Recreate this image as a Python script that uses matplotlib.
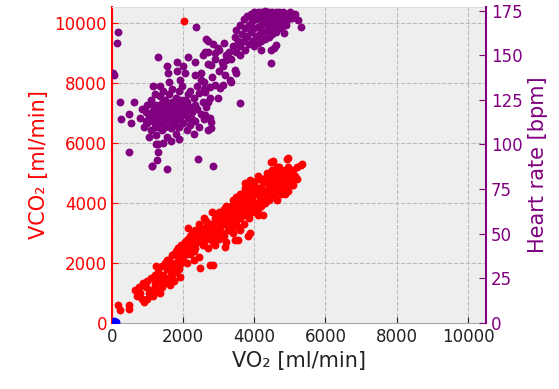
import matplotlib
matplotlib.use('Agg')
import matplotlib.pyplot as plt

# VCO2 against VO2, one point per breath [ml/min]
vo2 = [180, 240, 480, 470, 650, 700, 800, 880, 900, 950, 1000, 1050, 1100, 1150,
       1164, 1200, 1250, 1300, 1300, 1350, 1400, 1400, 1450, 1500, 1500, 1550,
       1600, 1600, 1630, 1650, 1700, 1700, 1750, 1800, 1800, 1850, 1900, 1900,
       1910, 1950, 2000, 2000, 2050, 2100, 2100, 2143, 2150, 2200, 2200, 2250,
       2300, 2300, 2350, 2400, 2400, 2450, 2470, 2500, 2500, 2550, 2600, 2650,
       2657, 2700, 2700, 2750, 2750, 2800, 2842, 2850, 2900, 2900, 2950, 3000,
       3000, 3050, 3100, 3100, 3150, 3170, 3200, 3200, 3250, 3300, 3300, 3350,
       3400, 3400, 3449, 3450, 3500, 3500, 3542, 3550, 3600, 3600, 3650, 3700,
       3700, 3728, 3750, 3800, 3800, 3820, 3850, 3868, 3868, 3900, 3900, 3950,
       4000, 4000, 4050, 4100, 4100, 4150, 4200, 4200, 4250, 4300, 4300, 4350,
       4400, 4400, 4450, 4480, 4500, 4500, 4520, 4550, 4600, 4650, 4700, 4700,
       4750, 4800, 4850, 4900, 4900, 4930, 4940, 4950, 5000, 5100, 5100, 5200,
       5314, 5350, 3000, 3100, 3200, 3300, 3400, 3500, 3600, 3700, 3800, 3900,
       4000, 4100, 4200, 4300, 4400, 4500, 4600, 4700, 4800, 3350, 3450, 3550,
       3650, 3750, 3850, 3950, 4050, 4150, 4250, 4350, 4450, 4550, 4650, 2600,
       2700, 2800, 2900, 3000, 2450, 2350, 2250, 2150, 2050, 1950, 1850, 1750,
       3250, 3150, 3050, 3950, 4250, 4650, 4850, 5050, 2030,
       750, 850, 1000, 1100, 1200, 1250, 1350, 1450, 1550, 1650, 1700, 1800,
       1850, 1950, 2050, 2100, 2200, 2250, 2300, 2350, 2450, 2550, 2600, 2650,
       2750, 2850, 2900, 2950, 3050, 3100, 3150, 3250, 3300, 3350, 3450, 3500,
       3550, 3650, 3700, 3750, 3800, 3850, 3900, 3950, 4000, 4050, 4100, 4150,
       4200, 4250, 4300, 4350, 4400, 4450, 4550, 4600, 4650, 4700, 4750, 4800,
       4850, 4950, 5000, 5050, 5150, 5200, 4100, 3600, 3400, 3200]
vco2 = [600, 430, 600, 470, 1100, 900, 1000, 1330, 700, 1200, 800, 1000, 1500, 900,
        1040, 1300, 1100, 1700, 1400, 1000, 1200, 1900, 1600, 1350, 2000, 1800,
        1500, 2100, 1270, 1700, 1900, 2250, 1400, 2000, 2400, 2200, 1800, 2500,
        1540, 2300, 2100, 2600, 2400, 2000, 2750, 3150, 2500, 2300, 2900, 2600,
        2100, 2800, 2500, 2700, 3000, 2200, 1820, 2800, 3100, 2600, 2900, 3200,
        3380, 2500, 3000, 2800, 1930, 3100, 1930, 3300, 2900, 2600, 3100, 3400,
        2800, 3200, 3000, 3500, 3300, 2540, 2700, 3600, 3100, 3400, 3800, 3200,
        3600, 3000, 2770, 3900, 3400, 3700, 2770, 3200, 4000, 3500, 3800, 3300,
        4100, 4660, 3600, 3900, 4300, 2880, 3500, 4770, 2990, 4000, 3700, 4200,
        3800, 4400, 4000, 3600, 4300, 4100, 4500, 3900, 4200, 4700, 4000, 4400,
        4600, 4100, 4300, 5370, 4800, 4500, 5380, 4200, 4700, 4400, 5000, 4600,
        4300, 4800, 4500, 5100, 4700, 5470, 5490, 4400, 4900, 4600, 5100, 4800,
        5270, 5300, 3700, 3300, 3900, 3600, 4100, 3900, 4300, 3800, 4500, 4300,
        4700, 4500, 4800, 4400, 4900, 5100, 4900, 5200, 5000, 3700, 4100, 3800,
        4200, 4400, 4100, 4600, 4500, 4800, 4700, 4900, 4700, 5000, 5200, 3500,
        3300, 3700, 3400, 3100, 3300, 3100, 3000, 2800, 2700, 2600, 2500, 2300,
        3500, 2900, 3600, 3700, 3600, 4100, 4300, 4600, 10070,
        1200, 800, 1400, 1100, 1600, 1900, 1500, 1300, 2100, 2000, 1600, 1700,
        2500, 2000, 2700, 2300, 2600, 2900, 2400, 3000, 2900, 3100, 2700, 2900,
        3300, 2700, 3500, 2800, 3600, 3300, 3800, 3700, 3100, 3900, 3500, 4200,
        3700, 4300, 3900, 4500, 3600, 4200, 4500, 3800, 4700, 4300, 4900, 4500,
        4100, 4800, 4400, 5000, 4300, 4900, 5100, 4500, 5200, 4800, 5100, 4500,
        5000, 5200, 4700, 5000, 4900, 5200, 3800, 3100, 3300, 3400]

# heart rate against VO2 [bpm]
vo2_hr = [185, 157, 73, 28, 2377, 1303, 232, 260, 484, 540, 632, 484, 1303, 1303,
          1258, 1119, 1538, 2422, 2842, 1119,
          1538, 1584, 1818, 2003, 2050, 1818, 1910, 1958, 1164, 2330, 2330, 2517,
          2562, 2610, 2657, 2143,
          800, 850, 900, 950, 1000, 1000, 1050, 1100, 1100, 1150, 1150, 1200, 1200,
          1200, 1250, 1250, 1300, 1300, 1350, 1350, 1400, 1400, 1400, 1450, 1450,
          1500, 1500, 1500, 1550, 1550, 1600, 1600, 1600, 1650, 1650, 1700, 1700,
          1700, 1750, 1750, 1800, 1800, 1800, 1850, 1850, 1900, 1900, 1950, 1950,
          2000, 2000, 2050, 2100, 2100, 2150, 2200, 2200, 2250, 2300, 2350, 2400,
          2450, 2500, 2550, 2600, 2650, 2700, 1250, 1450, 1650, 1900, 1050, 2300,
          1350, 1600, 1900, 2150, 2450, 2600, 2750,
          1300, 1400, 1500, 1600, 1700, 1800, 1900, 2000, 1250, 1450, 1550, 1750,
          1850, 2050, 2250, 2350, 1150, 950, 1350, 1650,
          2200, 2400, 2600, 2800, 3000, 2500, 2700, 2900, 3100, 3200, 3000, 2850,
          3300, 3150, 3350,
          3400, 3450, 3500, 3500, 3550, 3600, 3600, 3650, 3700, 3700, 3750, 3750,
          3800, 3800, 3850, 3850, 3900, 3900, 3950, 3950, 4000, 4000, 4000, 4050,
          4050, 4100, 4100, 4100, 4150, 4150, 4200, 4200, 4200, 4250, 4250, 4300,
          4300, 4300, 4350, 4350, 4400, 4400, 4400, 4450, 4450, 4500, 4500, 4500,
          4550, 4550, 4600, 4600, 4600, 4650, 4700, 4700, 4750, 4750, 4800, 4800,
          4850, 4900, 4900, 4950, 5000, 5050, 5080, 5150, 5220, 5314, 4847, 4615,
          4568, 4475, 4475, 4195, 3589, 3449, 3496, 3309, 3169, 3122, 3216, 2797,
          2703, 2703, 2890, 2982, 2749, 2890, 3029, 2610, 2703, 2982, 3122, 3356,
          3589, 2749, 2797, 2797, 2610]
hr = [163, 157, 139, 140, 166, 149, 124, 114, 117, 112, 124, 96, 100, 96,
      91, 88, 86, 92, 88, 88,
      144, 140, 146, 144, 140, 141, 136, 133, 133, 146, 139, 136,
      150, 152, 159, 149,
      115, 120, 110, 118, 122, 112, 116, 108, 125, 119, 113, 128, 110,
      117, 122, 105, 115, 120, 112, 127, 118, 108, 123, 114, 130,
      119, 110, 125, 116, 104, 121, 113, 128, 118, 109, 124, 115,
      131, 112, 120, 117, 106, 126, 122, 114, 119, 110, 125, 116,
      121, 112, 118, 124, 108, 115, 121, 111, 118, 126, 113, 120,
      110, 117, 124, 114, 121, 108, 100, 101, 102, 103, 104, 106,
      133, 135, 130, 128, 129, 131, 126,
      110, 113, 115, 117, 119, 121, 114, 117, 118, 121, 123, 113,
      110, 125, 114, 122, 122, 113, 117, 122,
      130, 133, 135, 138, 141, 140, 145, 148, 146, 150, 153, 156,
      152, 157, 148,
      155, 160, 164, 152, 158, 167, 155, 162, 170, 158, 165, 153,
      172, 161, 167, 156, 173, 163, 169, 158, 174, 165, 155, 170,
      161, 174, 166, 157, 171, 162, 174, 167, 158, 172, 163, 175,
      168, 159, 172, 164, 174, 168, 160, 171, 165, 174, 169, 162,
      172, 166, 174, 169, 163, 171, 174, 167, 172, 165, 174, 169,
      171, 173, 167, 170, 174, 171, 172.6, 173, 169.8, 166, 162.4, 155.8,
      154, 153, 145.6, 153, 150.2, 141.8, 140, 136.2, 139, 143.7, 147.4, 144.6,
      157.7, 152, 151.2, 154, 132.4, 133.4, 131.5, 129.6, 124, 126, 133.4, 135.2,
      123.1, 114.7, 112.8, 109.1, 116.6]

# resting samples close to the origin
vo2_rest = [0, 60, 120]
vco2_rest = [0, 60, 20]

red = '#ff0000'
purple = '#800080'

fig = plt.figure(figsize=(5.59, 3.89), dpi=100)
ax = fig.add_axes([0.2, 0.17, 0.669, 0.812])
ax.set_facecolor('#eeeeee')

ax.scatter(vo2, vco2, s=32, color=red, linewidths=0, zorder=3)
ax.scatter(vo2_rest, vco2_rest, s=32, color='blue', linewidths=0, zorder=3)
ax.set_xlim(0, 10500)
ax.set_ylim(0, 10530)
ax.set_xticks(range(0, 10001, 2000))
ax.set_yticks(range(0, 10001, 2000))
ax.grid(True, linestyle='--', color='#bbbbbb', linewidth=0.8)
ax.set_axisbelow(True)

ax.set_xlabel('VO₂ [ml/min]', fontsize=15, color='#222222')
ax.set_ylabel('VCO₂ [ml/min]', fontsize=15, color=red)
ax.tick_params(axis='x', direction='in', labelsize=12, colors='#222222', length=4)
ax.tick_params(axis='y', direction='in', labelsize=12, colors=red, length=4)

ax.spines['left'].set_color(red)
ax.spines['left'].set_linewidth(1.5)
ax.spines['top'].set_color('#dddddd')
ax.spines['bottom'].set_color('#aaaaaa')
ax.spines['right'].set_visible(False)

ax2 = ax.twinx()
ax2.scatter(vo2_hr, hr, s=32, color=purple, linewidths=0, zorder=3)
ax2.set_ylim(0, 177)
ax2.set_yticks(range(0, 176, 25))
ax2.set_ylabel('Heart rate [bpm]', fontsize=15, color=purple)
ax2.tick_params(axis='y', direction='in', labelsize=12, colors=purple, length=5)
ax2.spines['right'].set_color(purple)
ax2.spines['right'].set_linewidth(1.5)
for side in ('left', 'top', 'bottom'):
    ax2.spines[side].set_visible(False)

fig.savefig('out.png', dpi=100)
